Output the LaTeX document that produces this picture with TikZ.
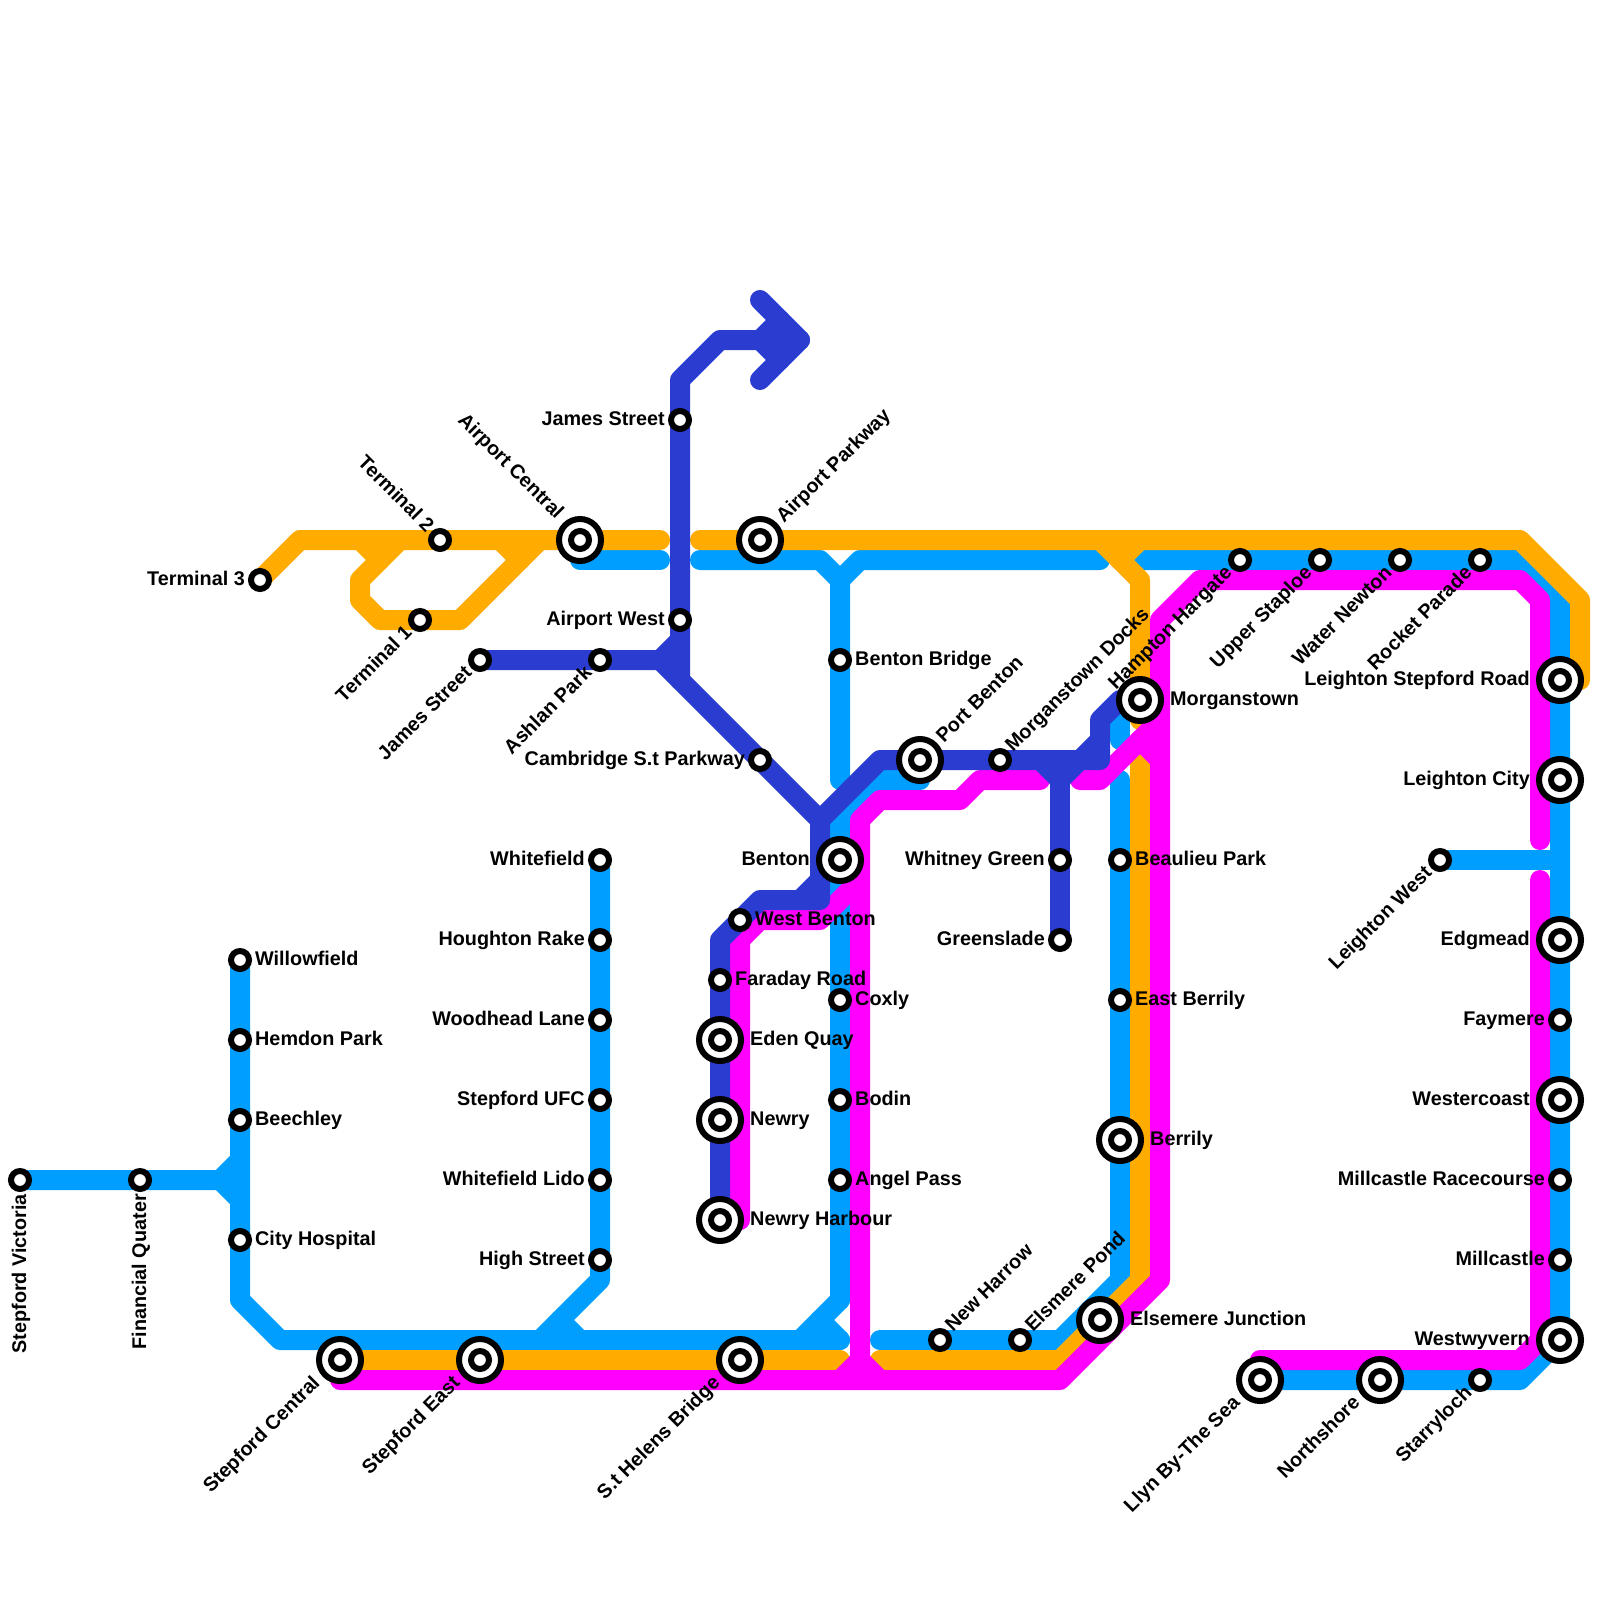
\documentclass[tikz,border=0pt]{standalone}
\usepackage{fontspec}
\setmainfont{Liberation Sans}
\usepackage{xcolor}
\usepackage{tikz}
\usetikzlibrary{backgrounds}
\definecolor{railblue}{HTML}{009FFF}
\definecolor{railgold}{HTML}{FFAB00}
\definecolor{railpink}{HTML}{FF00FF}
\definecolor{railnavy}{HTML}{2B3DD1}
\tikzset{
 rail/.style={line width=20pt,line cap=round,line join=round},
 stop/.style={circle,draw=black,fill=white,line width=6pt,minimum size=18pt,inner sep=0pt},
 hub/.style={stop,minimum size=42pt,path picture={
  \draw[black,line width=6pt] (path picture bounding box.center) circle (9pt);}},
 lbl/.style={inner sep=0pt,font=\bfseries\fontsize{19.8}{20}\selectfont},
 lblE/.style={lbl,anchor=base west,xshift=15pt,yshift=-5pt},
 lblEh/.style={lbl,anchor=base west,xshift=30pt,yshift=-5pt},
 lblW/.style={lbl,anchor=base east,xshift=-15pt,yshift=-5pt},
 lblWh/.style={lbl,anchor=base east,xshift=-30pt,yshift=-5pt},
 lblNE/.style={lbl,anchor=base west,xshift=13pt,yshift=7pt,rotate=45},
 lblNEh/.style={lbl,anchor=base west,xshift=24pt,yshift=16pt,rotate=45},
 lblSW/.style={lbl,anchor=base east,xshift=-7pt,yshift=-14pt,rotate=45},
 lblSWh/.style={lbl,anchor=base east,xshift=-19pt,yshift=-24pt,rotate=45},
 lblNW/.style={lbl,anchor=base east,xshift=-14pt,yshift=7pt,rotate=-45},
 lblNWh/.style={lbl,anchor=base east,xshift=-24pt,yshift=20pt,rotate=-45},
 lblS/.style={lbl,anchor=base east,xshift=6pt,yshift=-14pt,rotate=90},
}
\begin{document}
\begin{tikzpicture}[x=20pt,y=-20pt]
 \useasboundingbox (0,0) rectangle (80,80);
 \foreach \kind/\side/\id/\x/\y/\name in {
  stop/lblS/vic/1/59/Stepford Victoria,stop/lblS/fin/7/59/Financial Quater,
  stop/lblE/wil/12/48/Willowfield,stop/lblE/hem/12/52/Hemdon Park,
  stop/lblE/bee/12/56/Beechley,stop/lblE/cit/12/62/City Hospital,
  stop/lblW/whf/30/43/Whitefield,stop/lblW/hou/30/47/Houghton Rake,
  stop/lblW/woo/30/51/Woodhead Lane,stop/lblW/ufc/30/55/Stepford UFC,
  stop/lblW/lid/30/59/Whitefield Lido,stop/lblW/hig/30/63/High Street,
  hub/lblSWh/stc/17/68/Stepford Central,hub/lblSWh/ste/24/68/Stepford East,
  hub/lblSWh/hel/37/68/S.t Helens Bridge,
  stop/lblW/tth/13/29/Terminal 3,stop/lblNW/ttw/22/27/Terminal 2,
  stop/lblSW/tto/21/31/Terminal 1,hub/lblNWh/apc/29/27/Airport Central,
  hub/lblNEh/app/38/27/Airport Parkway,stop/lblW/jam/34/21/James Street,
  stop/lblW/apw/34/31/Airport West,stop/lblSW/jas/24/33/James Street,
  stop/lblSW/ash/30/33/Ashlan Park,stop/lblW/cam/38/38/Cambridge S.t Parkway,
  stop/lblE/bbr/42/33/Benton Bridge,hub/lblNEh/pob/46/38/Port Benton,
  stop/lblNE/mdo/50/38/Morganstown Docks,hub/lblWh/ben/42/43/Benton,
  stop/lblE/wbe/37/46/West Benton,stop/lblE/far/36/49/Faraday Road,
  hub/lblEh/ede/36/52/Eden Quay,hub/lblEh/new/36/56/Newry,
  hub/lblEh/nhb/36/61/Newry Harbour,stop/lblE/cox/42/50/Coxly,
  stop/lblE/bod/42/55/Bodin,stop/lblE/ang/42/59/Angel Pass,
  stop/lblW/wgr/53/43/Whitney Green,stop/lblW/gre/53/47/Greenslade,
  stop/lblE/bea/56/43/Beaulieu Park,stop/lblE/eab/56/50/East Berrily,
  hub/lblEh/ber/56/57/Berrily,hub/lblEh/mor/57/35/Morganstown,
  stop/lblNE/nha/47/67/New Harrow,stop/lblNE/epo/51/67/Elsmere Pond,
  hub/lblEh/eju/55/66/Elsemere Junction,
  stop/lblSW/hah/62/28/Hampton Hargate,stop/lblSW/ups/66/28/Upper Staploe,
  stop/lblSW/wat/70/28/Water Newton,stop/lblSW/roc/74/28/Rocket Parade,
  hub/lblWh/lsr/78/34/Leighton Stepford Road,hub/lblWh/lci/78/39/Leighton City,
  stop/lblSW/lew/72/43/Leighton West,hub/lblWh/edg/78/47/Edgmead,
  stop/lblW/fay/78/51/Faymere,hub/lblWh/wec/78/55/Westercoast,
  stop/lblW/mra/78/59/Millcastle Racecourse,stop/lblW/mil/78/63/Millcastle,
  hub/lblWh/wwy/78/67/Westwyvern,hub/lblSWh/lly/63/69/Llyn By-The Sea,
  hub/lblSWh/nor/69/69/Northshore,stop/lblSW/sta/74/69/Starryloch} {
  \node[\kind] (\id) at (\x,\y) {};
  \node[\side] (\id-name) at (\x,\y) {\name};
 }
 \begin{pgfonlayer}{background}
  \begin{scope}[rail,railblue]
   \draw (vic.center)--(fin.center)--(11,59)--(12,58);
   \draw (11,59)--(12,60);
   \draw (wil.center)--(12,65)--(14,67)--(42,67);
   \draw (whf.center)--(30,64)--(27,67);
   \draw (28,66)--(29,67);
   \draw (42,65)--(40,67);
   \draw (41,66)--(42,67);
   \draw (29,28)--(33,28);
   \draw (35,28)--(41,28)--(42,29)--(42,39);
   \draw (42,29)--(43,28)--(55,28);
   \draw (57,28)--(76,28)--(78,30)--(wwy.center)--(76,69)--(lly.center);
   \draw (lew.center)--(78,43);
   \draw (46,39)--(44,39)--(42,41)--(42,65);
   \draw (56,36)--(56,37);
   \draw (56,39)--(56,64)--(53,67)--(44,67);
  \end{scope}
  \begin{scope}[rail,railgold]
   \draw (tth.center)--(15,27)--(33,27);
   \draw (18,27)--(19,28);
   \draw (20,27)--(18,29)--(18,30)--(19,31)--(23,31)--(27,27);
   \draw (25,27)--(26,28);
   \draw (35,27)--(76,27)--(79,30)--(79,34);
   \draw (55,27)--(57,29)--(57,36);
   \draw (57,27)--(56,28);
   \draw (stc.center)--(42,68);
   \draw (57,37)--(57,64)--(53,68)--(44,68);
  \end{scope}
  \begin{scope}[rail,railpink]
   \draw (17,69)--(53,69)--(58,64)--(58,31)--(60,29)--(76,29)--(77,30)--(77,42);
   \draw (77,44)--(77,67)--(76,68)--(63,68);
   \draw (42,69)--(43,68)--(44,69);
   \draw (43,69)--(43,41)--(44,40)--(48,40)--(49,39)--(52,39);
   \draw (37,61)--(37,47)--(38,46)--(41,46)--(43,44);
   \draw (54,39)--(55,39)--(58,36);
   \draw (57,37)--(58,38);
  \end{scope}
  \begin{scope}[rail,railnavy]
   \draw (nhb.center)--(36,47)--(38,45)--(41,45)--(41,41);
   \draw (40,45)--(41,44);
   \draw (jas.center)--(33,33)--(34,32);
   \draw (33,33)--(41,41)--(44,38)--(55,38)--(55,36)--(56,35)--(mor.center);
   \draw (34,34)--(34,19)--(36,17)--(40,17);
   \draw (38,15)--(40,17)--(38,19);
   \draw (39,16)--(38,17)--(39,18);
   \draw (54,38)--(55,37);
   \draw (52,38)--(53,39)--(54,38);
   \draw (53,39)--(gre.center);
  \end{scope}
 \end{pgfonlayer}
\end{tikzpicture}
\end{document}
